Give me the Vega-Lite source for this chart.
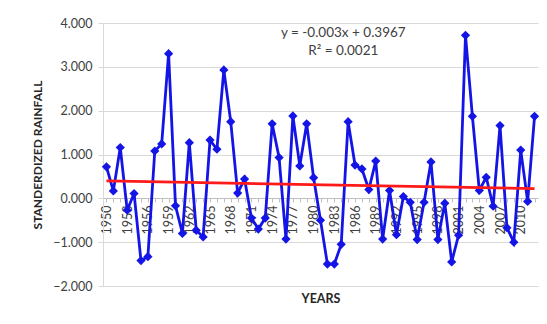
{
  "$schema": "https://vega.github.io/schema/vega-lite/v6.json",
  "autosize": "none",
  "width": 435,
  "height": 263,
  "padding": {"left": 103, "top": 23, "right": 9, "bottom": 38},
  "background": "white",
  "config": {
    "font": "Lato",
    "view": {"stroke": null},
    "axis": {"labelFont": "Lato", "titleFont": "Lato", "labelColor": "#404040", "titleColor": "#262626"}
  },
  "datasets": {
    "rain": [
      {"Year": 1950, "Rainfall": 0.72}, {"Year": 1951, "Rainfall": 0.17}, {"Year": 1952, "Rainfall": 1.16},
      {"Year": 1953, "Rainfall": -0.27}, {"Year": 1954, "Rainfall": 0.11}, {"Year": 1955, "Rainfall": -1.42},
      {"Year": 1956, "Rainfall": -1.33}, {"Year": 1957, "Rainfall": 1.08}, {"Year": 1958, "Rainfall": 1.24},
      {"Year": 1959, "Rainfall": 3.30}, {"Year": 1960, "Rainfall": -0.17}, {"Year": 1961, "Rainfall": -0.80},
      {"Year": 1962, "Rainfall": 1.27}, {"Year": 1963, "Rainfall": -0.73}, {"Year": 1964, "Rainfall": -0.88},
      {"Year": 1965, "Rainfall": 1.33}, {"Year": 1966, "Rainfall": 1.12}, {"Year": 1967, "Rainfall": 2.93},
      {"Year": 1968, "Rainfall": 1.75}, {"Year": 1969, "Rainfall": 0.12}, {"Year": 1970, "Rainfall": 0.44},
      {"Year": 1971, "Rainfall": -0.45}, {"Year": 1972, "Rainfall": -0.70}, {"Year": 1973, "Rainfall": -0.45},
      {"Year": 1974, "Rainfall": 1.70}, {"Year": 1975, "Rainfall": 0.93}, {"Year": 1976, "Rainfall": -0.93},
      {"Year": 1977, "Rainfall": 1.88}, {"Year": 1978, "Rainfall": 0.74}, {"Year": 1979, "Rainfall": 1.70},
      {"Year": 1980, "Rainfall": 0.47}, {"Year": 1981, "Rainfall": -0.50}, {"Year": 1982, "Rainfall": -1.50},
      {"Year": 1983, "Rainfall": -1.50}, {"Year": 1984, "Rainfall": -1.05}, {"Year": 1985, "Rainfall": 1.75},
      {"Year": 1986, "Rainfall": 0.76}, {"Year": 1987, "Rainfall": 0.67}, {"Year": 1988, "Rainfall": 0.20},
      {"Year": 1989, "Rainfall": 0.85}, {"Year": 1990, "Rainfall": -0.93}, {"Year": 1991, "Rainfall": 0.18},
      {"Year": 1992, "Rainfall": -0.83}, {"Year": 1993, "Rainfall": 0.04}, {"Year": 1994, "Rainfall": -0.09},
      {"Year": 1995, "Rainfall": -0.94}, {"Year": 1996, "Rainfall": -0.09}, {"Year": 1997, "Rainfall": 0.83},
      {"Year": 1998, "Rainfall": -0.94}, {"Year": 1999, "Rainfall": -0.11}, {"Year": 2000, "Rainfall": -1.45},
      {"Year": 2001, "Rainfall": -0.84}, {"Year": 2002, "Rainfall": 3.72}, {"Year": 2003, "Rainfall": 1.87},
      {"Year": 2004, "Rainfall": 0.18}, {"Year": 2005, "Rainfall": 0.48}, {"Year": 2006, "Rainfall": -0.18},
      {"Year": 2007, "Rainfall": 1.66}, {"Year": 2008, "Rainfall": -0.67}, {"Year": 2009, "Rainfall": -1.00},
      {"Year": 2010, "Rainfall": 1.10}, {"Year": 2011, "Rainfall": -0.07}, {"Year": 2012, "Rainfall": 1.87}
    ],
    "notes": [
      {"Label": "y = -0.003x + 0.3967", "Year": 1984.3, "Rainfall": 3.78},
      {"Label": "R² = 0.0021", "Year": 1984.3, "Rainfall": 3.36}
    ]
  },
  "encoding": {
    "x": {
      "field": "Year", "type": "quantitative",
      "scale": {"domain": [1949.5, 2012.5], "nice": false, "zero": false},
      "axis": {
        "title": "YEARS", "titleFontSize": 12.5, "titleFontWeight": "bold", "titleY": 100, "titleBaseline": "middle",
        "offset": -88,
        "values": [1950,1951,1952,1953,1954,1955,1956,1957,1958,1959,1960,1961,1962,1963,1964,1965,1966,1967,1968,1969,1970,1971,1972,1973,1974,1975,1976,1977,1978,1979,1980,1981,1982,1983,1984,1985,1986,1987,1988,1989,1990,1991,1992,1993,1994,1995,1996,1997,1998,1999,2000,2001,2002,2003,2004,2005,2006,2007,2008,2009,2010,2011,2012],
        "format": "d",
        "labelExpr": "(datum.value - 1950) % 3 == 0 ? datum.label : ''",
        "labelAngle": -90, "labelAlign": "right", "labelBaseline": "middle",
        "labelFontSize": 12.5, "labelOverlap": false, "labelPadding": 3,
        "grid": false, "tickSize": 4, "tickColor": "#BFBFBF", "domainColor": "#BFBFBF", "domainWidth": 1
      }
    },
    "y": {
      "field": "Rainfall", "type": "quantitative",
      "scale": {"domain": [-2, 4], "nice": false},
      "axis": {
        "title": "STANDERDIZED RAINFALL", "titleFontSize": 12, "titleFontWeight": "bold", "titlePadding": 8,
        "values": [-2, -1, 0, 1, 2, 3, 4], "format": ".3f",
        "labelFontSize": 12.5, "labelPadding": 6,
        "grid": true, "gridColor": "#D9D9D9", "gridWidth": 1,
        "tickSize": 5, "tickColor": "#D9D9D9", "domainColor": "#D9D9D9"
      }
    }
  },
  "layer": [
    {
      "data": {"name": "rain"},
      "mark": {"type": "line", "color": "#1414E6", "strokeWidth": 2.8}
    },
    {
      "data": {"name": "rain"},
      "mark": {"type": "point", "shape": "diamond", "filled": true, "color": "#1414E6", "opacity": 1, "size": 85}
    },
    {
      "data": {"name": "rain"},
      "transform": [{"regression": "Rainfall", "on": "Year", "extent": [1950, 2012]}],
      "mark": {"type": "line", "color": "#FF1A1A", "strokeWidth": 2.8}
    },
    {
      "data": {"name": "notes"},
      "mark": {"type": "text", "fontSize": 13.5, "fontWeight": "normal", "color": "#404040", "font": "Lato"},
      "encoding": {
        "text": {"field": "Label", "type": "nominal"}
      }
    }
  ]
}
